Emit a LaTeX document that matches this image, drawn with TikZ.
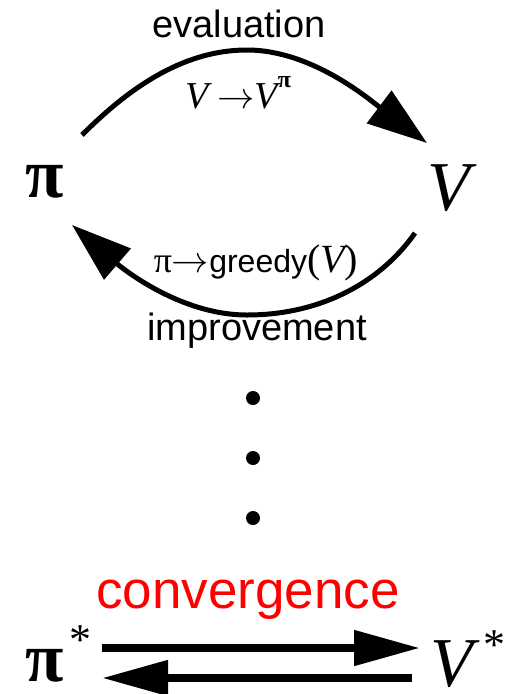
\documentclass[tikz,border=0pt]{standalone}
\usepackage{fontspec}
\setmainfont{Liberation Sans}
\newfontfamily\sr{Liberation Serif}
\usetikzlibrary{arrows.meta}
\definecolor{convred}{RGB}{255,0,0}
\newcommand{\bigarr}{{\fontsize{24}{24}\selectfont\scalebox{1.5}{$\rightarrow$}}}
\tikzset{
  big/.style={inner sep=0pt,text depth=0pt,font=\sr\fontsize{70}{72}\selectfont},
  lbl/.style={inner sep=0pt,anchor=base,font=\fontsize{38}{40}\selectfont},
  arc/.style={line width=5pt,-{Triangle[length=60pt,width=40pt]}},
  bar/.style={line width=8pt,-{Triangle[length=66pt,width=34pt]}},
  dot/.style={circle,fill=black,inner sep=0pt,minimum size=14pt}
}
\begin{document}
\begin{tikzpicture}[x=1pt,y=-1pt]
\useasboundingbox (0,0) rectangle (517,694);
% main symbols
\node[big,anchor=base] (pi) at (45,197) {\bfseries π};
\node[big,anchor=base] (V) at (449,210) {\itshape V};
% labels
\node[lbl] (eval) at (239,37) {evaluation};
\node[lbl,font=\sr\fontsize{38}{40}\selectfont] (vv) at (238,108) {\itshape V\hspace{9pt}\bigarr\itshape V\raisebox{21pt}{\upshape\bfseries\fontsize{24}{24}\selectfont π}};
\node[lbl] (greedy) at (256,272) {{\sr\fontsize{36}{38}\selectfont π\bigarr}{\fontsize{32}{34}\selectfont greedy}{\sr\fontsize{40}{42}\selectfont(\itshape V\upshape)}};
\node[lbl] (impr) at (257,340) {improvement};
% arcs
\coordinate (a1) at (82,135);
\coordinate (a2) at (247,50);
\coordinate (a3) at (427,143);
\draw[arc] (a1) .. controls (125,92) and (180,50) .. (a2) .. controls (312,50) and (370,100) .. (a3);
\coordinate (b1) at (415,233);
\coordinate (b2) at (247,315);
\coordinate (b3) at (72,225);
\draw[arc] (b1) .. controls (380,283) and (320,315) .. (b2) .. controls (180,315) and (122,268) .. (b3);
% dots
\node[dot] (d1) at (253,398) {};
\node[dot] (d2) at (253,458) {};
\node[dot] (d3) at (253,518) {};
% convergence
\node[lbl,text=convred,font=\fontsize{53}{55}\selectfont] (conv) at (248,608) {convergence};
\node[big,anchor=base] (pis) at (45,681) {\bfseries π};
\node[inner sep=0pt,font=\sr\fontsize{44}{44}\selectfont] (pistar) at (80,640) {*};
\node[big,anchor=base] (Vs) at (452,686) {\itshape V};
\node[inner sep=0pt,font=\sr\fontsize{44}{44}\selectfont] (Vstar) at (494,645) {*};
\coordinate (t1) at (102,648);
\coordinate (t2) at (420,648);
\coordinate (u1) at (412,678);
\coordinate (u2) at (102,678);
\draw[bar] (t1) -- (t2);
\draw[bar] (u1) -- (u2);
\end{tikzpicture}
\end{document}
